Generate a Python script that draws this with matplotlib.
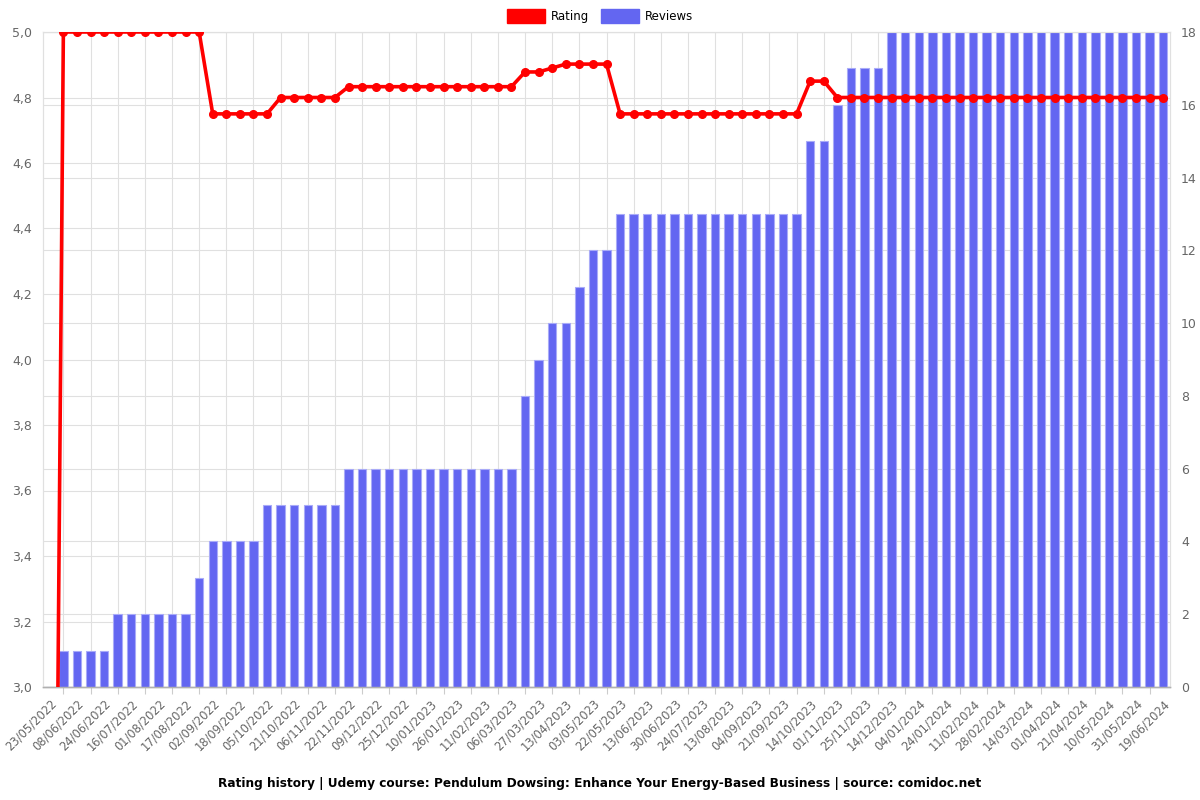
import matplotlib
matplotlib.use("Agg")
import matplotlib.pyplot as plt
from matplotlib.patches import Patch
from matplotlib.ticker import FixedLocator, FuncFormatter
import numpy as np

# ---- data ----
tick_labels = ["23/05/2022", "08/06/2022", "24/06/2022", "16/07/2022", "01/08/2022",
               "17/08/2022", "02/09/2022", "18/09/2022", "05/10/2022", "21/10/2022",
               "06/11/2022", "22/11/2022", "09/12/2022", "25/12/2022", "10/01/2023",
               "26/01/2023", "11/02/2023", "06/03/2023", "27/03/2023", "13/04/2023",
               "03/05/2023", "22/05/2023", "13/06/2023", "30/06/2023", "24/07/2023",
               "13/08/2023", "04/09/2023", "21/09/2023", "14/10/2023", "01/11/2023",
               "25/11/2023", "14/12/2023", "04/01/2024", "24/01/2024", "11/02/2024",
               "28/02/2024", "14/03/2024", "01/04/2024", "21/04/2024", "10/05/2024",
               "31/05/2024", "19/06/2024"]

reviews = [0,
           1, 1, 1, 1,
           2, 2, 2, 2, 2, 2,
           3,
           4, 4, 4, 4,
           5, 5, 5, 5, 5, 5,
           6, 6, 6, 6, 6, 6, 6, 6, 6, 6, 6, 6, 6,
           8, 9, 10, 10, 11, 12, 12,
           13, 13, 13, 13, 13, 13, 13, 13, 13, 13, 13, 13, 13, 13,
           15, 15, 16, 17, 17, 17,
           18, 18, 18, 18, 18, 18, 18, 18, 18, 18, 18, 18, 18, 18, 18, 18, 18, 18, 18, 18, 18]

ratings = [0.0,
           5.0, 5.0, 5.0, 5.0, 5.0, 5.0, 5.0, 5.0, 5.0, 5.0, 5.0,
           4.75, 4.75, 4.75, 4.75, 4.75,
           4.8, 4.8, 4.8, 4.8, 4.8,
           4.833, 4.833, 4.833, 4.833, 4.833, 4.833, 4.833, 4.833, 4.833, 4.833, 4.833, 4.833, 4.833,
           4.878, 4.878, 4.89, 4.902, 4.902, 4.902, 4.902,
           4.75, 4.75, 4.75, 4.75, 4.75, 4.75, 4.75, 4.75, 4.75, 4.75, 4.75, 4.75, 4.75, 4.75,
           4.85, 4.85,
           4.8, 4.8, 4.8, 4.8, 4.8, 4.8, 4.8, 4.8, 4.8, 4.8, 4.8, 4.8, 4.8, 4.8, 4.8, 4.8, 4.8,
           4.8, 4.8, 4.8, 4.8, 4.8, 4.8, 4.8, 4.8]

title = ("Rating history | Udemy course: Pendulum Dowsing: Enhance Your Energy-Based "
         "Business | source: comidoc.net")

# ---- styles ----
RED = "#ff0000"
BLUE = "#6366f1"
GRID = "#e0e0e0"
TXT = "#666666"

plt.rcParams['font.family'] = ['DejaVu Sans']

fig = plt.figure(figsize=(12, 8), dpi=100)
rect = [43 / 1200, 1 - 687 / 800, (1170 - 43) / 1200, (687 - 32) / 800]

n = len(reviews)
x = np.arange(n)

# base axes: left rating scale, x ticks, grids (lowest)
ax = fig.add_axes(rect)
ax.set_zorder(0)
ax.set_ylim(3.0, 5.0)
ax.set_xlim(-0.5, n - 0.5)
ax.yaxis.set_major_locator(FixedLocator(np.round(np.arange(3.0, 5.01, 0.2), 1)))
ax.yaxis.set_major_formatter(FuncFormatter(lambda v, p: f"{v:.1f}".replace('.', ',')))
ax.set_xticks(np.arange(1, n, 2))
ax.set_xticklabels([])
ax.set_xticks(np.arange(0, n, 2), minor=True)
ax.set_xticklabels(tick_labels, minor=True, rotation=45, ha='right',
                   rotation_mode='anchor', fontsize=8.3, color=TXT)
ax.tick_params(axis='x', which='major', length=5, color="#cccccc", width=0.8)
ax.tick_params(axis='x', which='minor', length=0, pad=7)
ax.grid(axis='x', which='major', color=GRID, linewidth=0.8)
ax.grid(axis='y', color=GRID, linewidth=0.8)
ax.tick_params(axis='y', length=0, labelsize=9, labelcolor=TXT, pad=8)

# bars on right axis
ax2 = ax.twinx()
ax2.set_zorder(1)
ax2.patch.set_visible(False)
ax2.bar(x, reviews, width=0.62, color=BLUE, edgecolor="#a9abf8", linewidth=0.8, zorder=2)
ax2.set_ylim(0, 18)
ax2.yaxis.set_major_locator(FixedLocator(np.arange(0, 19, 2)))
ax2.grid(axis='y', color=GRID, linewidth=0.8, zorder=0)
ax2.set_axisbelow(True)
ax2.tick_params(axis='y', length=0, labelsize=9, labelcolor=TXT, pad=8)

# line overlay on rating scale
ax3 = fig.add_axes(rect, sharex=ax)
ax3.set_zorder(2)
ax3.patch.set_visible(False)
ax3.set_ylim(3.0, 5.0)
ax3.plot(x, ratings, color=RED, linewidth=2.6, marker='o', markersize=5.5, zorder=5,
         solid_joinstyle='round')
ax3.axis('off')

for a in (ax, ax2):
    for s in ('top', 'left', 'right'):
        a.spines[s].set_color(GRID)
        a.spines[s].set_linewidth(0.8)
    a.spines['bottom'].set_color("#b0b0b0")
    a.spines['bottom'].set_linewidth(1.0)

# legend
handles = [Patch(facecolor=RED, edgecolor=RED, label="Rating"),
           Patch(facecolor=BLUE, edgecolor=BLUE, label="Reviews")]
fig.legend(handles=handles, loc='center', bbox_to_anchor=(0.5, 1 - 16 / 800), ncol=2,
           frameon=False, fontsize=8.5, handlelength=3.2, handleheight=1.4,
           handletextpad=0.5, columnspacing=1.0)

fig.text(0.5, 1 - 783 / 800, title, ha='center', va='center', fontsize=8.7,
         fontweight='bold', color='black')

fig.savefig("out.png", dpi=100)
